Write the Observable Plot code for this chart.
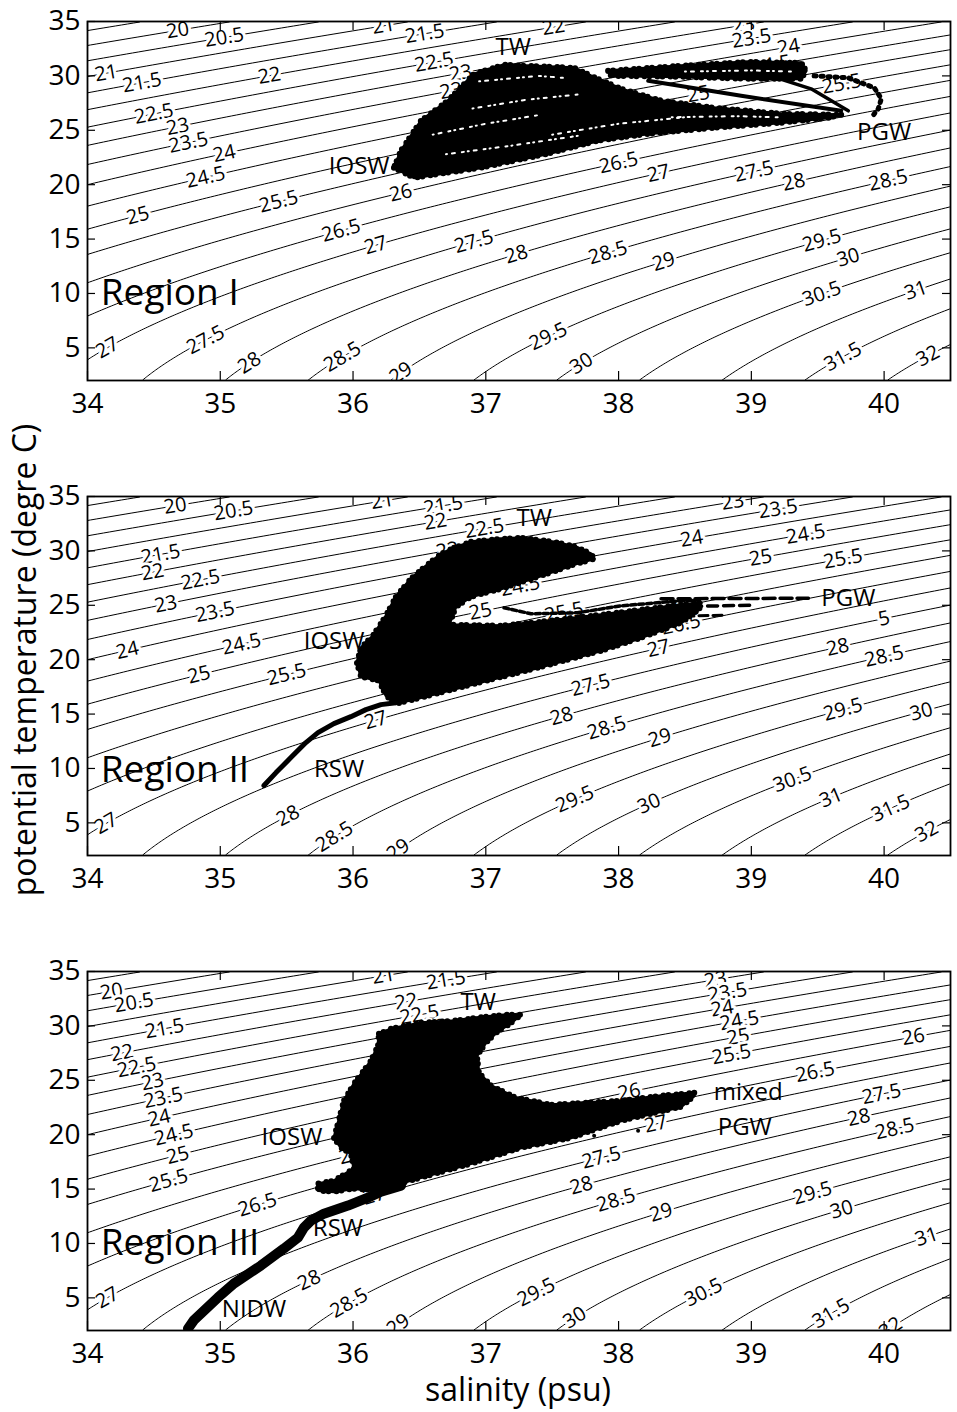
<!DOCTYPE html>
<html><head><meta charset="utf-8">
<script src="https://cdn.jsdelivr.net/npm/d3@7"></script>
<script src="https://cdn.jsdelivr.net/npm/@observablehq/plot@0.6"></script>
<style>
body{margin:0;background:#fff;}
#wrap{position:relative;width:957px;height:1412px;overflow:hidden;background:#fff;font-family:"Open Sans",sans-serif;}
</style></head><body><div id="wrap"></div>
<script>
// ---------- axes / ticks ----------
const salinityDomain = [34, 40.5];
const temperatureDomain = [2, 35];
const salinityTicks = [34, 35, 36, 37, 38, 39, 40];
const temperatureTicks = [5, 10, 15, 20, 25, 30, 35];
const sigmaLevels = [19.5,20,20.5,21,21.5,22,22.5,23,23.5,24,24.5,25,25.5,26,26.5,27,27.5,28,28.5,29,29.5,30,30.5,31,31.5,32,32.5];
const xTitle = "salinity (psu)";
const yTitle = "potential temperature (degre C)";
const regionNames = ["Region I", "Region II", "Region III"];
const regionLabelPos = [[34.10, 9.99], [34.10, 9.8], [34.10, 9.99]];

// ---------- contour labels: [salinity, sigma level, optional shown text] ----------
const contourLabels1 = [[34.68,20],[35.03,20.5],[34.14,21],[36.23,21],[34.41,21.5],[36.54,21.5],[35.37,22],[37.51,22],[34.50,22.5],[36.61,22.5],[34.68,23],[36.81,23],[34.76,23.5],[36.80,23.5],[38.94,23],[39.0,23.5],[35.03,24],[39.28,24],[34.89,24.5],[39.15,24.5],[34.38,25],[38.6,25],[35.44,25.5],[39.68,25.5],[36.36,26],[35.91,26.5],[38.0,26.5],[34.15,27],[36.17,27],[38.3,27],[34.89,27.5],[36.91,27.5],[39.02,27.5],[35.22,28],[37.23,28],[39.32,28],[35.92,28.5],[37.92,28.5],[40.03,28.5],[36.36,29],[38.34,29],[37.47,29.5],[39.53,29.5],[37.72,30],[39.73,30],[39.53,30.5],[40.24,31],[39.69,31.5],[40.33,32]];
const contourLabels2 = [[34.66,20],[35.10,20.5],[36.22,21],[34.55,21.5],[36.68,21.5],[34.49,22],[36.62,22],[34.85,22.5],[36.99,22.5],[34.59,23],[36.71,23],[38.86,23],[34.96,23.5],[39.20,23.5],[34.30,24],[38.55,24],[35.16,24.5],[37.26,24.5],[39.41,24.5],[34.84,25],[36.96,25],[39.07,25],[35.50,25.5],[37.59,25.5],[39.69,25.5],[36.27,26],[38.45,26],[38.47,26.5],[34.14,27],[36.17,27],[38.30,27],[37.79,27.5],[40.0,27.5,"5"],[35.51,28],[37.57,28],[39.65,28],[35.86,28.5],[37.91,28.5],[40.0,28.5],[36.34,29],[38.31,29],[37.67,29.5],[39.69,29.5],[38.23,30],[40.28,30],[39.31,30.5],[39.60,31],[40.05,31.5],[40.32,32]];
const contourLabels3 = [[34.18,20],[34.35,20.5],[36.23,21],[34.58,21.5],[36.70,21.5],[34.26,22],[36.40,22],[34.37,22.5],[36.50,22.5],[34.49,23],[36.62,23],[38.73,23],[34.57,23.5],[38.82,23.5],[34.54,24],[38.78,24],[34.65,24.5],[38.91,24.5],[34.68,25],[38.90,25],[34.61,25.5],[38.85,25.5],[35.98,26],[38.08,26],[40.22,26],[35.28,26.5],[39.48,26.5],[34.15,27],[36.16,27],[38.28,27],[37.87,27.5],[39.98,27.5],[35.67,28],[37.72,28],[39.81,28],[35.97,28.5],[37.98,28.5],[40.08,28.5],[36.34,29],[38.32,29],[37.38,29.5],[39.46,29.5],[37.67,30],[39.68,30],[38.64,30.5],[40.32,31],[39.60,31.5],[40.05,32]];

// ---------- water-mass labels: [text, salinity, temperature] ----------
const waterMasses1 = [["TW",37.206,32.67],["IOSW",36.046,21.65],["PGW",40.0,24.77]];
const waterMasses2 = [["TW",37.364,33.04],["IOSW",35.857,21.65],["PGW",39.73,25.6],["RSW",35.894,9.9]];
const waterMasses3 = [["TW",36.942,32.2],["IOSW",35.54,19.8],["mixed",38.976,23.85],["PGW",38.95,20.7],["RSW",35.886,11.37],["NIDW",35.254,3.93]];

// ---------- observed T-S envelopes [salinity, temperature] ----------
const cloud1Main = [[36.308,21.56],[36.459,20.64],[36.964,21.56],[37.469,22.85],[37.846,24.04],[38.223,24.68],[38.721,25.23],[39.225,25.69],[39.579,26.15],[39.677,26.43],[39.225,26.52],[38.721,27.07],[38.321,27.72],[38.019,28.81],[37.793,30.01],[37.665,30.74],[37.137,31.02],[36.911,30.19],[36.715,27.72],[36.512,25.88],[36.361,23.12]];
const cloud1Band = [[37.921,30.47],[38.472,30.93],[38.976,31.29],[39.375,31.20],[39.413,30.47],[39.375,29.73],[38.976,29.73],[38.472,29.92],[37.944,30.01]];
const trace1a = [[38.223,29.55],[38.923,28.17],[39.677,26.79]];
const trace1b = [[39.097,30.19],[39.45,28.81],[39.730,26.79]];
const trace1Loop = [[39.473,30.01],[39.730,29.82],[39.926,28.91],[39.979,27.90],[39.956,26.98],[39.903,26.15]];
// gaps (white) inside the Region I cloud
const gaps1 = [
  [[36.6,24.6],[37.0,25.6],[37.4,26.4]],
  [[36.9,27.0],[37.3,27.8],[37.7,28.3]],
  [[37.5,24.6],[38.0,25.6],[38.5,26.2]],
  [[36.7,22.8],[37.2,23.6],[37.7,24.5]],
  [[38.4,26.2],[38.9,26.3],[39.2,26.2]],
  [[36.95,29.5],[37.4,30.0],[37.6,29.8]],
  [[38.5,30.4],[39.0,30.5],[39.3,30.4]]
];

const cloud2Main = [[36.761,30.28],[36.888,30.83],[37.115,31.11],[37.265,31.20],[37.514,30.83],[37.680,30.37],[37.793,29.73],[37.816,29.27],[37.680,28.81],[37.416,27.71],[37.115,26.52],[36.888,25.78],[36.775,24.86],[36.723,23.21],[37.115,23.12],[37.416,23.49],[37.868,24.13],[38.170,24.59],[38.472,25.05],[38.623,25.23],[38.608,24.68],[38.472,23.40],[38.170,22.02],[37.868,20.82],[37.363,19.17],[36.888,17.70],[36.512,16.51],[36.323,15.96],[36.248,16.69],[36.195,18.07],[36.060,18.44],[36.029,19.72],[36.060,21.10],[36.150,22.20],[36.248,24.04],[36.323,25.78],[36.436,27.44],[36.550,28.63],[36.663,29.73]];
const trace2Tail = [[35.329,8.43],[35.420,9.62],[35.532,11.00],[35.645,12.38],[35.736,13.29],[35.856,14.12],[35.984,14.76],[36.097,15.41],[36.210,15.87],[36.323,16.05]];
const trace2Strand = [[37.137,24.77],[37.34,24.22],[37.69,24.31],[38.02,24.95],[38.47,25.42],[38.62,25.5]];
const trace2DashA = [[38.32,25.6],[39.43,25.65]];
const trace2DashB = [[38.55,24.9],[39.0,25.0]];
const trace2DashC = [[38.5,24.0],[38.8,24.1]];

const cloud3Main = [[36.195,29.27],[36.286,29.73],[36.512,30.28],[36.761,30.47],[36.926,30.74],[37.152,31.02],[37.265,31.02],[37.190,30.28],[37.077,29.36],[37.001,28.45],[36.933,27.25],[36.948,25.69],[37.039,24.50],[37.227,23.40],[37.491,22.75],[38.019,23.12],[38.321,23.58],[38.570,23.85],[38.570,23.58],[38.472,22.57],[38.019,21.28],[37.642,19.72],[37.265,18.80],[36.888,17.34],[36.512,16.05],[36.263,15.22],[36.210,14.86],[36.007,15.04],[35.856,14.76],[35.736,14.86],[35.736,15.50],[35.856,15.77],[36.007,16.88],[35.984,18.25],[35.909,18.80],[35.856,19.72],[35.886,21.01],[35.931,23.12],[36.007,24.68],[36.135,26.79],[36.188,28.17]];
const trace3Tail = [[34.757,2.18],[34.80,2.92],[34.982,5.03],[35.103,6.32],[35.306,7.97],[35.479,9.53],[35.585,10.54],[35.630,11.46],[35.683,12.10],[35.781,12.74],[35.962,13.48],[36.112,14.21],[36.210,14.76],[36.361,15.31]];
const dots3 = [[37.491,19.26],[37.816,19.91],[38.147,20.37]];

// ---------- layout ----------
const W = 957, H = 420, ML = 87, MR = 7, MT = 21, MB = 40;
const panelTops = [0, 475, 950];
const kx = (W - ML - MR) / (salinityDomain[1] - salinityDomain[0]);
const ky = (H - MT - MB) / (temperatureDomain[1] - temperatureDomain[0]);

// UNESCO 1980 equation of state at p = 0 (potential density anomaly)
function sigmaTheta(S, T) {
  const T2 = T*T, T3 = T2*T, T4 = T3*T, T5 = T4*T;
  const rw = 999.842594 + 6.793952e-2*T - 9.095290e-3*T2 + 1.001685e-4*T3 - 1.120083e-6*T4 + 6.536332e-9*T5;
  const A = 0.824493 - 4.0899e-3*T + 7.6438e-5*T2 - 8.2467e-7*T3 + 5.3875e-9*T4;
  const B = -5.72466e-3 + 1.0227e-4*T - 1.6546e-6*T2;
  return rw + A*S + B*Math.pow(S, 1.5) + 4.8314e-4*S*S - 1000;
}
function tempOnIsopycnal(S, level) {
  let lo = -2, hi = 45;
  for (let i = 0; i < 60; i++) {
    const m = (lo + hi) / 2;
    if (sigmaTheta(S, m) > level) lo = m; else hi = m;
  }
  return (lo + hi) / 2;
}
function angleAt(S, T) {
  const e = 1e-3;
  const sS = (sigmaTheta(S+e,T) - sigmaTheta(S-e,T)) / (2*e);
  const sT = (sigmaTheta(S,T+e) - sigmaTheta(S,T-e)) / (2*e);
  const dTdS = -sS / sT;
  return -Math.atan(dTdS * ky / kx) * 180 / Math.PI;
}

const panels = [
  {region: regionNames[0], pos: regionLabelPos[0], labels: contourLabels1, masses: waterMasses1,
   fills: [cloud1Main, cloud1Band], gaps: gaps1,
   traces: [[trace1a, 4, null], [trace1b, 3.5, null], [trace1Loop, 5, "2,5"]], dots: []},
  {region: regionNames[1], pos: regionLabelPos[1], labels: contourLabels2, masses: waterMasses2,
   fills: [cloud2Main], gaps: [],
   traces: [[trace2Tail, 5, null], [trace2Strand, 3.5, "5,3"], [trace2DashA, 3.5, "12,5"], [trace2DashB, 3.5, "10,6"], [trace2DashC, 3, "9,5"]], dots: []},
  {region: regionNames[2], pos: regionLabelPos[2], labels: contourLabels3, masses: waterMasses3,
   fills: [cloud3Main], gaps: [],
   traces: [[trace3Tail, 10, null]], dots: dots3}
];

const wrap = document.getElementById("wrap");
const px = d => d[0], py = d => d[1];

panels.forEach((p, i) => {
  const labels = p.labels.map(([S, level, txt]) => {
    const T = tempOnIsopycnal(S, level);
    return {S, T, text: txt ?? String(level), angle: angleAt(S, T)};
  });
  const tickX = 9 / ky, tickY = 8 / kx;
  const marks = [
    Plot.contour({value: sigmaTheta, x1: salinityDomain[0], x2: salinityDomain[1], y1: temperatureDomain[0], y2: temperatureDomain[1],
      thresholds: sigmaLevels, stroke: "black", strokeWidth: 1, fill: "none", pixelSize: 1, clip: true}),
    Plot.text(labels, {x: "S", y: "T", text: "text", rotate: "angle", fontSize: 20, fill: "black",
      stroke: "white", strokeWidth: 6, clip: true}),
    ...p.fills.map(poly => Plot.line(poly, {x: px, y: py, curve: "linear-closed", fill: "black", stroke: "black",
      strokeWidth: 3, strokeLinejoin: "round", clip: true})),
    ...p.fills.map(poly => Plot.line(poly, {x: px, y: py, curve: "linear-closed", fill: "none", stroke: "black",
      strokeWidth: 6, strokeLinecap: "round", strokeDasharray: "0,5,0,8", clip: true})),
    ...p.gaps.map(g => Plot.line(g, {x: px, y: py, stroke: "white", strokeWidth: 2, strokeDasharray: "1,5,3,7,2,4",
      strokeLinecap: "round", clip: true})),
    ...p.traces.map(([tr, w, dash]) => Plot.line(tr, {x: px, y: py, stroke: "black", strokeWidth: w,
      strokeLinecap: "round", strokeLinejoin: "round", strokeDasharray: dash ?? undefined, clip: true})),
    Plot.dot(p.dots, {x: px, y: py, r: 2, fill: "black", stroke: "none"}),
    Plot.text(p.masses, {x: d => d[1], y: d => d[2], text: d => d[0], fontSize: 24, fill: "black"}),
    Plot.text([p.region], {x: () => p.pos[0], y: () => p.pos[1], text: d => d, fontSize: 37, textAnchor: "start", fill: "black"}),
    Plot.ruleX(salinityTicks, {x: d => d, y1: temperatureDomain[0], y2: temperatureDomain[0] + tickX, stroke: "black", strokeWidth: 1.2}),
    Plot.ruleX(salinityTicks, {x: d => d, y1: temperatureDomain[1] - tickX, y2: temperatureDomain[1], stroke: "black", strokeWidth: 1.2}),
    Plot.ruleY(temperatureTicks, {y: d => d, x1: salinityDomain[0], x2: salinityDomain[0] + tickY, stroke: "black", strokeWidth: 1.2}),
    Plot.ruleY(temperatureTicks, {y: d => d, x1: salinityDomain[1] - tickY, x2: salinityDomain[1], stroke: "black", strokeWidth: 1.2}),
    Plot.frame({stroke: "black", strokeWidth: 1.8}),
    Plot.axisX({ticks: salinityTicks, tickFormat: d => String(d), tickSize: 0, tickPadding: 13, fontSize: 28, label: null}),
    Plot.axisY({ticks: temperatureTicks, tickFormat: d => String(d), tickSize: 0, tickPadding: 7, fontSize: 28, label: null})
  ];
  const svg = Plot.plot({
    width: W, height: H, marginLeft: ML, marginRight: MR, marginTop: MT, marginBottom: MB,
    x: {domain: salinityDomain, label: null},
    y: {domain: temperatureDomain, label: null},
    style: {fontFamily: "'Open Sans', sans-serif", fontSize: "28px", background: "transparent", color: "black", overflow: "visible"},
    marks
  });
  svg.style.position = "absolute";
  svg.style.left = "0px";
  svg.style.top = panelTops[i] + "px";
  wrap.appendChild(svg);
});

// axis titles
const ns = "http://www.w3.org/2000/svg";
const ov = document.createElementNS(ns, "svg");
ov.setAttribute("width", 957); ov.setAttribute("height", 1412);
ov.style.position = "absolute"; ov.style.left = "0px"; ov.style.top = "0px";
ov.setAttribute("font-family", "'Open Sans', sans-serif");
const t1 = document.createElementNS(ns, "text");
t1.setAttribute("x", 518); t1.setAttribute("y", 1401); t1.setAttribute("text-anchor", "middle");
t1.setAttribute("font-size", 32); t1.textContent = xTitle; ov.appendChild(t1);
const t2 = document.createElementNS(ns, "text");
t2.setAttribute("transform", "translate(36,660) rotate(-90)"); t2.setAttribute("text-anchor", "middle");
t2.setAttribute("font-size", 32); t2.textContent = yTitle; ov.appendChild(t2);
wrap.appendChild(ov);
</script></body></html>
